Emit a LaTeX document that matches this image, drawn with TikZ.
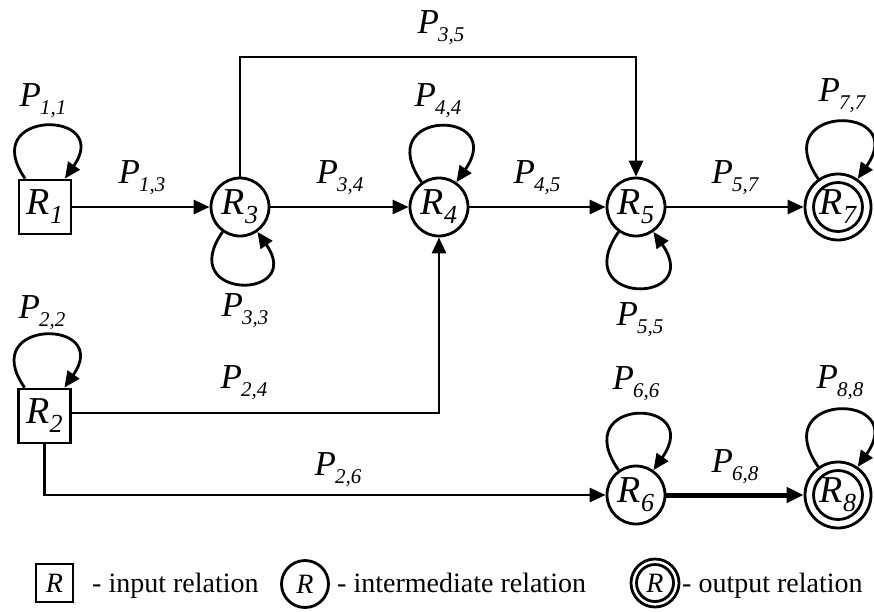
\documentclass[tikz,border=0pt]{standalone}
\usepackage{fontspec}
\setmainfont{Liberation Serif}
\usetikzlibrary{arrows.meta}
\newcommand\plab[1]{{\fontsize{35}{35}\selectfont\itshape P\kern-1pt\raisebox{-8pt}{\fontsize{21}{21}\selectfont #1}}}
\newcommand\rlab[1]{{\fontsize{38}{38}\selectfont\itshape R\kern0pt\raisebox{-9pt}{\fontsize{26}{26}\selectfont #1}}}
\begin{document}
\begin{tikzpicture}[x=1pt,y=1pt,
  lw/.style={line width=2.8pt},
  arr/.style={lw,-{Triangle[length=16pt,width=14pt]}},
  inrel/.style={draw,lw,rectangle,minimum width=52pt,minimum height=54pt,inner sep=0pt},
  midrel/.style={draw,lw,circle,minimum size=58pt,inner sep=0pt},
  outrel/.style={draw,lw,circle,minimum size=66pt,inner sep=0pt},
  lab/.style={inner sep=0pt},
  legtext/.style={anchor=base west,inner sep=0pt,font=\fontsize{28}{28}\selectfont}]
\useasboundingbox (0,0) rectangle (874,-611);
\fill[white] (0,0) rectangle (874,-611);

% nodes
\node[inrel] (R1) at (45,-207) {\rlab{1}};
\node[inrel] (R2) at (44.5,-416) {\rlab{2}};
\node[midrel] (R3) at (240,-207) {\rlab{3}};
\node[midrel] (R4) at (439,-207) {\rlab{4}};
\node[midrel] (R5) at (636,-207) {\rlab{5}};
\node[midrel] (R6) at (636,-495) {\rlab{6}};
\node[outrel] (R7) at (838,-207) {\rlab{7}};
\node[outrel] (R8) at (838,-495) {\rlab{8}};
\draw[lw] (R7.center) circle (24.5);
\draw[lw] (R8.center) circle (24.5);

% connectors
\draw[arr] (R1) -- (R3);
\draw[arr] (R3) -- (R4);
\draw[arr] (R4) -- (R5);
\draw[arr] (R5) -- (R7);
\coordinate (top) at (440,-57);
\draw[arr] (R3.north) -- (R3.north |- top) -| (R5.north);
\draw[arr] ([yshift=3pt]R2.east) -| (R4.south);
\draw[arr] (R2.south) |- (R6.west);
\draw[line width=5pt,-{Triangle[length=17pt,width=15pt]}] (R6) -- (R8);

% loops
\draw[arr] (R1.125) .. controls +(125:85pt) and +(55:85pt) .. (R1.55);
\draw[arr] (R2.125) .. controls +(125:85pt) and +(55:85pt) .. (R2.55);
\draw[arr] (R4.125) .. controls +(125:90pt) and +(55:90pt) .. (R4.55);
\draw[arr] (R6.125) .. controls +(125:90pt) and +(55:90pt) .. (R6.55);
\draw[arr] (R7.125) .. controls +(125:92pt) and +(55:92pt) .. (R7.55);
\draw[arr] (R8.125) .. controls +(125:92pt) and +(55:92pt) .. (R8.55);
\draw[arr] (R3.-125) .. controls +(-125:84pt) and +(-55:84pt) .. (R3.-55);
\draw[arr] (R5.-125) .. controls +(-125:90pt) and +(-55:90pt) .. (R5.-55);

% labels
\node[lab] (p11) at (43,-101) {\plab{1,1}};
\node[lab] (p13) at (142,-178) {\plab{1,3}};
\node[lab] (p35) at (441,-28) {\plab{3,5}};
\node[lab] (p34) at (340,-178) {\plab{3,4}};
\node[lab] (p44) at (438,-101) {\plab{4,4}};
\node[lab] (p45) at (537,-178) {\plab{4,5}};
\node[lab] (p57) at (735,-178) {\plab{5,7}};
\node[lab] (p77) at (842,-96) {\plab{7,7}};
\node[lab] (p33) at (245,-311) {\plab{3,3}};
\node[lab] (p55) at (640,-320) {\plab{5,5}};
\node[lab] (p22) at (42,-313) {\plab{2,2}};
\node[lab] (p24) at (244,-383) {\plab{2,4}};
\node[lab] (p26) at (338,-470) {\plab{2,6}};
\node[lab] (p66) at (636,-384) {\plab{6,6}};
\node[lab] (p88) at (840,-383) {\plab{8,8}};
\node[lab] (p68) at (735,-467) {\plab{6,8}};

% legend
\node[draw,lw,minimum width=37pt,minimum height=38pt,inner sep=0pt] (lg1) at (54.5,-583) {\fontsize{28}{28}\selectfont\itshape R};
\node[legtext] (lt1) at (92,-592) {- input relation};
\node[draw,lw,circle,minimum size=47pt,inner sep=0pt] (lg2) at (305,-584) {\fontsize{28}{28}\selectfont\itshape R};
\node[legtext] (lt2) at (337,-592) {- intermediate relation};
\node[draw,lw,circle,minimum size=48pt,inner sep=0pt] (lg3) at (655,-583) {\fontsize{28}{28}\selectfont\itshape R};
\draw[lw] (lg3.center) circle (18.5);
\node[legtext] (lt3) at (682,-592) {- output relation};
\end{tikzpicture}
\end{document}
